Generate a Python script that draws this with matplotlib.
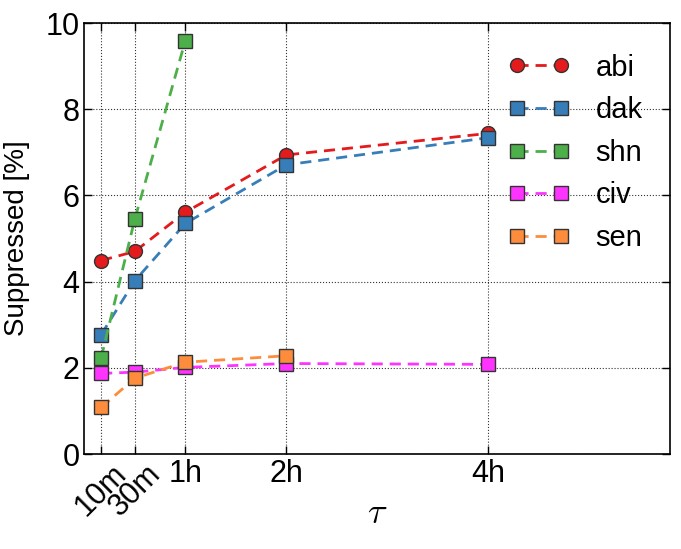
import numpy as np
import matplotlib
matplotlib.use("Agg")
import matplotlib.pyplot as plt

plt.rcParams['font.family'] = ['Liberation Sans', 'DejaVu Sans']
plt.rcParams['mathtext.fontset'] = 'cm'

# tau in minutes
tau = [10, 30, 60, 120, 240]
tick_labels = ["10m", "30m", "1h", "2h", "4h"]

abi = [4.49, 4.70, 5.61, 6.94, 7.44]
dak = [2.77, 4.02, 5.35, 6.71, 7.34]
shn = [2.23, 5.45, 9.59]
civ = [1.87, 1.90, 2.01, 2.10, 2.08]
sen = [1.08, 1.76, 2.13, 2.28]

series = [
    ("abi", abi, "o", "#e41a1c"),
    ("dak", dak, "s", "#377eb8"),
    ("shn", shn, "s", "#4daf4a"),
    ("civ", civ, "s", "#ff33ff"),
    ("sen", sen, "s", "#fd8d3c"),
]

fig = plt.figure(figsize=(6.81, 5.49), dpi=100)
ax = fig.add_axes([0.1238, 0.173, 0.8602, 0.785])

for name, vals, mk, col in series:
    ax.plot(tau[:len(vals)], vals, linestyle="--", lw=2, marker=mk,
            markersize=10, color=col, markeredgecolor="#333333",
            markeredgewidth=1, label=name, dashes=(4, 2.5))

ax.set_xlim(0, 348)
ax.set_ylim(0, 10)
ax.set_xticks(tau)
ax.set_xticklabels(tick_labels, fontsize=22)
# only the two crowded short-tau labels are tilted
for lbl in ax.get_xticklabels()[:2]:
    lbl.set_rotation(45)
ax.set_yticks([0, 2, 4, 6, 8, 10])
ax.tick_params(axis="y", labelsize=22)
ax.tick_params(direction="in", top=True, right=True, length=6, width=1)
ax.grid(True, color="black", linestyle=":", linewidth=0.8, alpha=0.8)
for sp in ax.spines.values():
    sp.set_linewidth(1.2)

ax.set_ylabel("Suppressed [%]", fontsize=20)
ax.yaxis.set_label_coords(-0.092, 0.5)
ax.set_xlabel(r"$\tau$", fontsize=26)
ax.xaxis.set_label_coords(0.5, -0.097)

ax.legend(loc="upper right", bbox_to_anchor=(0.973, 0.956), frameon=False,
          numpoints=2, fontsize=21, handlelength=2.1, labelspacing=0.5,
          borderaxespad=0.0, handletextpad=0.9)

fig.savefig("out.png", dpi=100)
